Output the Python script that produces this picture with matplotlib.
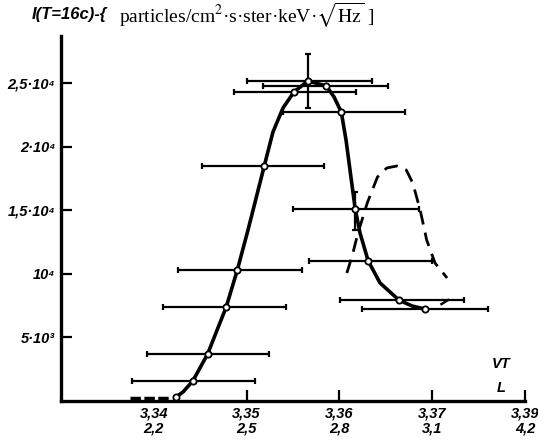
import matplotlib
matplotlib.use("Agg")
import matplotlib.pyplot as plt

plt.rcParams["mathtext.fontset"] = "stix"

# measured points (VT value, intensity) with horizontal error limits
vt = [3.3424, 3.3442, 3.3458, 3.3478, 3.3490, 3.3519, 3.3551, 3.3566,
      3.3586, 3.3602, 3.3617, 3.3631, 3.3664, 3.3692]
intensity = [315, 1575, 3701, 7402, 10315, 18504, 24331, 25197,
             24803, 22756, 15118, 11024, 7953, 7244]
vt_lo = [None, 3.3377, 3.3393, 3.3410, 3.3426, 3.3452, 3.3486, 3.3500,
         3.3518, 3.3539, 3.3550, 3.3567, 3.3601, 3.3624]
vt_hi = [None, 3.3509, 3.3524, 3.3542, 3.3560, 3.3583, 3.3618, 3.3635,
         3.3652, 3.3671, 3.3686, 3.3700, 3.3734, 3.3760]

# vertical error bars (index, low, high)
v_err_idx = [7, 10]
v_err_lo = [23071, 13465]
v_err_hi = [27323, 16457]

# hand-drawn solid curve through the points
curve_vt = [3.3424, 3.34315, 3.3442, 3.3458, 3.3478, 3.3490, 3.35015, 3.3519,
            3.35284, 3.35392, 3.3551, 3.3566, 3.3586, 3.35942, 3.3602,
            3.36071, 3.36114, 3.3617, 3.36222, 3.3631, 3.36438, 3.3664,
            3.36782, 3.3692]
curve_i = [315, 709, 1575, 3701, 7402, 10315, 13465, 18504,
           21181, 23071, 24331, 25197, 24803, 23937, 22756,
           20551, 18189, 15118, 13228, 11024, 9291, 7953,
           7480, 7244]

# dashed curve (second peak)
dash_vt = [3.3608, 3.3614, 3.3620, 3.3630, 3.3641, 3.3651, 3.3662,
           3.3672, 3.3679, 3.3687, 3.3694, 3.3703, 3.3716]
dash_i = [10079, 11496, 13228, 15591, 17638, 18346, 18504,
          18189, 17165, 15039, 12677, 10866, 9685]

# small tail after the last point
tail_vt = [3.3710, 3.3717]
tail_i = [7630, 7950]

# noisy baseline at the start
base_vt = [3.33744, 3.34175]
base_i = [236, 236]

x_ticks = [3.34, 3.35, 3.36, 3.37, 3.38]
x_labels = ["3,34\n2,2", "3,35\n2,5", "3,36\n2,8", "3,37\n3,1", "3,39\n4,2"]
y_ticks = [5000, 10000, 15000, 20000, 25000]
y_labels = ["5·10³", "10⁴", "1,5·10⁴", "2·10⁴", "2,5·10⁴"]

lab_font = dict(family=["Liberation Sans", "DejaVu Sans"],
                weight="bold", style="italic")

fig = plt.figure(figsize=(5.38, 4.42), dpi=100)
ax = fig.add_axes([0.1134, 0.0928, 0.8625, 0.8258])

ax.plot(base_vt, base_i, color="black", lw=2.5, ls=(0, (3, 1)))
ax.plot(curve_vt, curve_i, color="black", lw=2.6, solid_capstyle="round",
        solid_joinstyle="round")
ax.plot(dash_vt, dash_i, color="black", lw=2.0, ls=(0, (5, 3)))
ax.plot(tail_vt, tail_i, color="black", lw=1.8)

for i in range(len(vt)):
    if vt_lo[i] is None:
        continue
    ax.errorbar(vt[i], intensity[i],
                xerr=[[vt[i] - vt_lo[i]], [vt_hi[i] - vt[i]]],
                fmt="none", ecolor="black", elinewidth=1.6, capsize=2.5,
                capthick=1.6)
for k, i in enumerate(v_err_idx):
    ax.errorbar(vt[i], intensity[i],
                yerr=[[intensity[i] - v_err_lo[k]], [v_err_hi[k] - intensity[i]]],
                fmt="none", ecolor="black", elinewidth=1.6, capsize=2.5,
                capthick=1.6)

ax.plot(vt, intensity, "o", ms=4.5, mfc="white", mec="black", mew=1.3,
        zorder=5)

ax.set_xlim(3.33, 3.38)
ax.set_ylim(0, 28740)
ax.spines["top"].set_visible(False)
ax.spines["right"].set_visible(False)
ax.spines["left"].set_linewidth(2.4)
ax.spines["bottom"].set_linewidth(2.4)

ax.set_xticks(x_ticks)
ax.set_xticklabels(x_labels, fontsize=10.5, linespacing=1.1, **lab_font)
ax.set_yticks(y_ticks)
ax.set_yticklabels(y_labels, fontsize=10.5, **lab_font)
ax.tick_params(axis="both", direction="in", length=8, width=1.6, pad=4)
ax.xaxis.get_major_ticks()[0].tick1line.set_visible(False)

ax.text(3.3774, 2600, "VT", fontsize=10.5, ha="center", **lab_font)
ax.text(3.3774, 700, "L", fontsize=10.5, ha="center", **lab_font)

fig.text(32 / 538, 1 - 15 / 442, "I(T=16c)-{", fontsize=12, va="center",
         **lab_font)
fig.text(119 / 538, 1 - 15 / 442,
         r"particles/cm$^2$·s·ster·keV·$\sqrt{\mathrm{Hz}}$ ]",
         fontsize=14, va="center", family="Liberation Serif")

fig.savefig("out.png", dpi=100)
